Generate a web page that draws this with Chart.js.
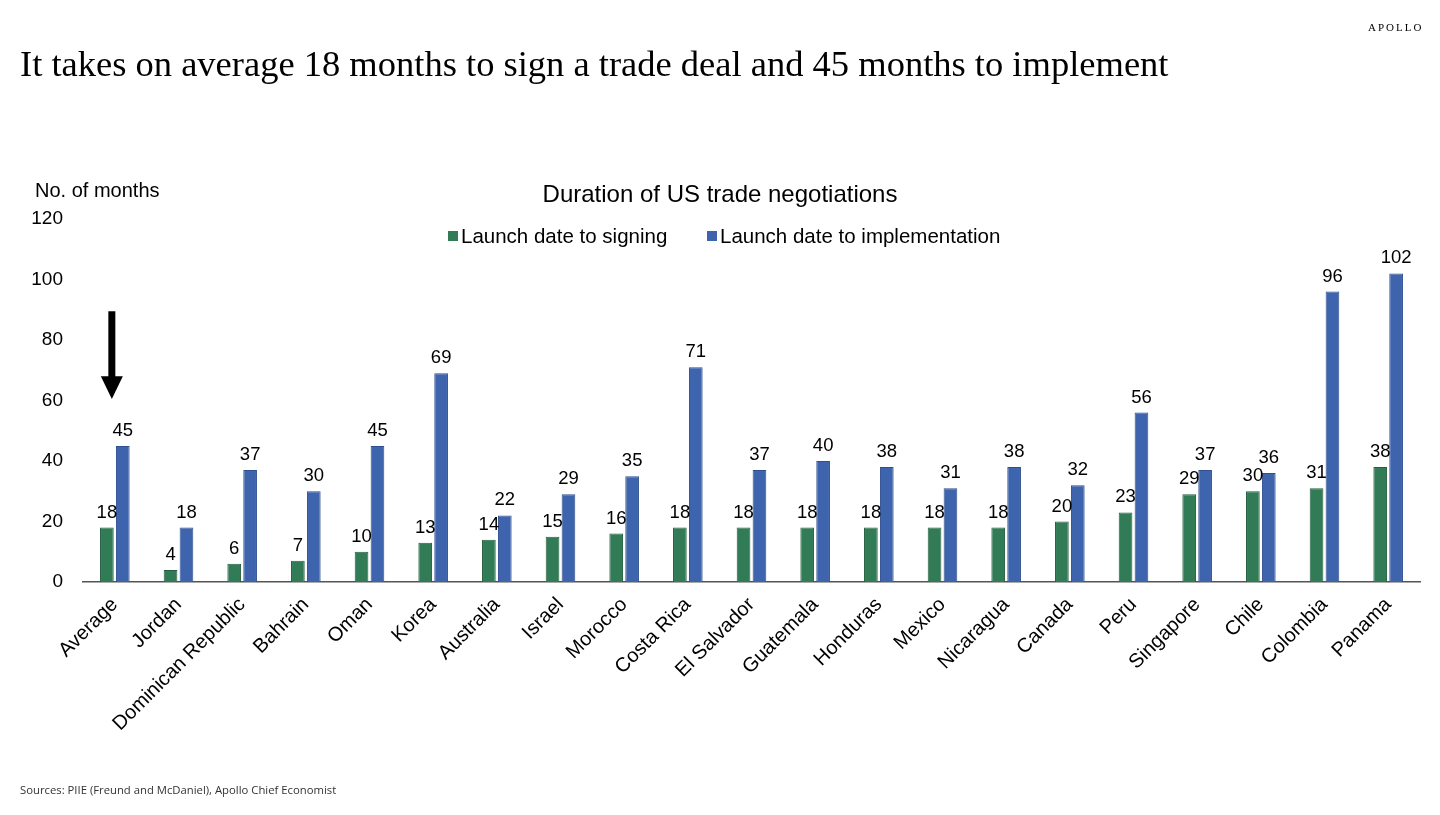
<!DOCTYPE html>
<html>
<head>
<meta charset="utf-8">
<script src="https://cdn.jsdelivr.net/npm/chart.js@4/dist/chart.umd.min.js"></script>
<style>
  body { margin: 0; background: #fff; }
  #wrap { position: relative; width: 1440px; height: 815px; overflow: hidden; }
  #chart { position: absolute; left: 0; top: 0; }
  .title { position: absolute; left: 20px; top: 42px; font-family: "Liberation Serif", serif; font-size: 36.5px; color: #000; white-space: nowrap; }
  .brand { position: absolute; left: 1368px; top: 21px; font-family: "Liberation Serif", serif; font-size: 11px; letter-spacing: 2px; color: #000; }
  .source { position: absolute; left: 20px; top: 782px; font-family: "Open Sans", sans-serif; font-size: 11.3px; color: #333; }
</style>
</head>
<body>
<div id="wrap">
  <canvas id="chart" width="1440" height="815"></canvas>
  <div class="brand">APOLLO</div>
  <div class="title">It takes on average 18 months to sign a trade deal and 45 months to implement</div>
  <div class="source">Sources: PIIE (Freund and McDaniel), Apollo Chief Economist</div>
</div>
<script>
const countries = ["Average", "Jordan", "Dominican Republic", "Bahrain", "Oman", "Korea", "Australia",
  "Israel", "Morocco", "Costa Rica", "El Salvador", "Guatemala", "Honduras", "Mexico", "Nicaragua",
  "Canada", "Peru", "Singapore", "Chile", "Colombia", "Panama"];
const toSigning = [18, 4, 6, 7, 10, 13, 14, 15, 16, 18, 18, 18, 18, 18, 18, 20, 23, 29, 30, 31, 38];
const toImplementation = [45, 18, 37, 30, 45, 69, 22, 29, 35, 71, 37, 40, 38, 31, 38, 32, 56, 37, 36, 96, 102];
const seriesNames = ["Launch date to signing", "Launch date to implementation"];
const yTicks = [0, 20, 40, 60, 80, 100, 120];

const GREEN = "#317c57";
const BLUE = "#3e64ae";
const FONT = "'Liberation Sans', Arial, sans-serif";

// value labels, chart title, legend, y-axis caption and the arrow
const extras = {
  id: "extras",
  afterDatasetsDraw(chart) {
    const ctx = chart.ctx;
    ctx.save();
    ctx.fillStyle = "#000";
    ctx.font = "18.5px " + FONT;
    ctx.textAlign = "center";
    ctx.textBaseline = "alphabetic";
    chart.data.datasets.forEach((ds, i) => {
      chart.getDatasetMeta(i).data.forEach((bar, j) => {
        ctx.fillText(ds.data[j], bar.x, bar.y - 10);
      });
    });

    // chart title
    ctx.font = "24px " + FONT;
    ctx.textBaseline = "middle";
    ctx.fillText("Duration of US trade negotiations", 720, 195);

    // legend
    ctx.font = "20.5px " + FONT;
    ctx.textAlign = "left";
    const items = [[448, GREEN, seriesNames[0]], [707, BLUE, seriesNames[1]]];
    items.forEach(([x, col, txt]) => {
      ctx.fillStyle = col;
      ctx.fillRect(x, 231, 10, 10);
      ctx.fillStyle = "#000";
      ctx.fillText(txt, x + 13, 237);
    });

    // y axis caption
    ctx.font = "20px " + FONT;
    ctx.fillText("No. of months", 35, 191);

    // arrow over Average
    const xs = chart.scales.x, ys = chart.scales.y;
    const ax = xs.getPixelForValue(0) - 3;
    const top = ys.getPixelForValue(89.5);
    const tip = ys.getPixelForValue(60.5);
    const headTop = ys.getPixelForValue(68);
    ctx.fillStyle = "#000";
    ctx.fillRect(ax - 3.5, top, 7, headTop - top + 1);
    ctx.beginPath();
    ctx.moveTo(ax - 11, headTop);
    ctx.lineTo(ax + 11, headTop);
    ctx.lineTo(ax, tip);
    ctx.closePath();
    ctx.fill();
    ctx.restore();
  }
};

new Chart(document.getElementById("chart"), {
  type: "bar",
  data: {
    labels: countries,
    datasets: [
      { label: seriesNames[0], data: toSigning, backgroundColor: GREEN, borderColor: "#24603f", borderWidth: 1,
        categoryPercentage: 0.5, barPercentage: 0.86 },
      { label: seriesNames[1], data: toImplementation, backgroundColor: BLUE, borderColor: "#2f4f8f", borderWidth: 1,
        categoryPercentage: 0.5, barPercentage: 0.86 }
    ]
  },
  options: {
    responsive: false,
    animation: false,
    layout: { padding: { top: 219, left: 20, right: 20, bottom: 0 } },
    plugins: {
      legend: { display: false },
      tooltip: { enabled: false }
    },
    scales: {
      x: {
        grid: { display: false, drawTicks: false },
        border: { display: true, color: "#555", width: 1.5 },
        ticks: {
          color: "#000",
          font: { family: FONT, size: 20 },
          maxRotation: 45, minRotation: 45,
          padding: 11,
          autoSkip: false
        },
        afterFit(scale) { scale.height = 233; }
      },
      y: {
        min: 0, max: 120,
        afterBuildTicks(scale) { scale.ticks = yTicks.map(v => ({ value: v })); },
        grid: { display: false, drawTicks: false },
        border: { display: false },
        ticks: {
          color: "#000",
          font: { family: FONT, size: 19 },
          padding: 20
        },
        afterFit(scale) { scale.width = 63; }
      }
    }
  },
  plugins: [extras]
});
</script>
</body>
</html>
